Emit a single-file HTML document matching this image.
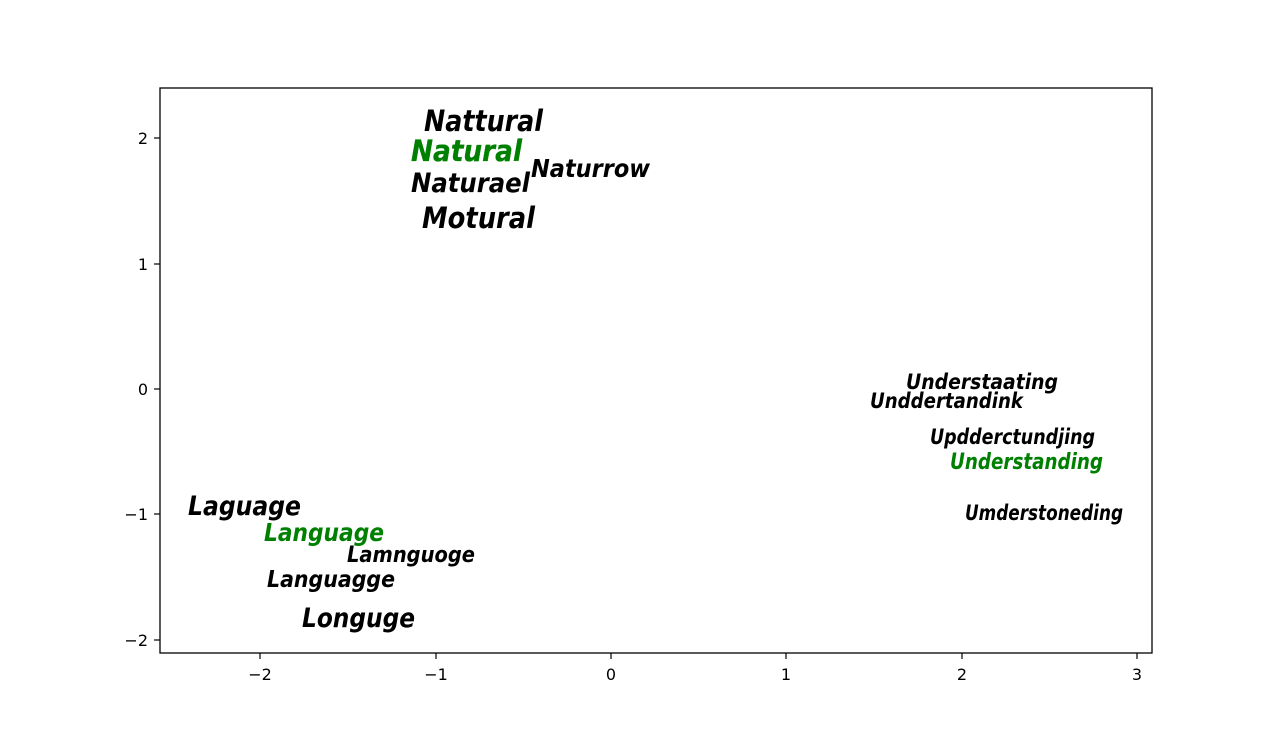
<!DOCTYPE html>
<html><head><style>body{margin:0;background:#fff}svg{display:block}</style></head><body>
<svg width="1280" height="734" xmlns="http://www.w3.org/2000/svg" font-family="DejaVu Sans, sans-serif">
<rect x="160" y="88" width="992" height="565" fill="none" stroke="#000" stroke-width="1.3"/>
<g stroke="#000" stroke-width="1.2">
<line x1="260" y1="653" x2="260" y2="659"/><line x1="436" y1="653" x2="436" y2="659"/><line x1="611" y1="653" x2="611" y2="659"/><line x1="786" y1="653" x2="786" y2="659"/><line x1="962" y1="653" x2="962" y2="659"/><line x1="1137" y1="653" x2="1137" y2="659"/>
<line x1="154" y1="138" x2="160" y2="138"/><line x1="154" y1="264" x2="160" y2="264"/><line x1="154" y1="389" x2="160" y2="389"/><line x1="154" y1="514" x2="160" y2="514"/><line x1="154" y1="640" x2="160" y2="640"/>
</g>
<g font-size="16" text-anchor="middle" fill="#000">
<text x="260" y="680">−2</text><text x="436" y="680">−1</text><text x="611" y="680">0</text><text x="786" y="680">1</text><text x="962" y="680">2</text><text x="1137" y="680">3</text>
</g>
<g font-size="16" text-anchor="end" fill="#000">
<text x="148" y="144">2</text><text x="148" y="270">1</text><text x="148" y="395">0</text><text x="148" y="520">−1</text><text x="148" y="646">−2</text>
</g>
<g font-style="oblique" font-weight="bold">
<text x="424" y="131" font-size="29" textLength="119" lengthAdjust="spacingAndGlyphs">Nattural</text>
<text x="411" y="161" font-size="29" fill="green" stroke="green" stroke-width="0.3" textLength="111" lengthAdjust="spacingAndGlyphs">Natural</text>
<text x="531" y="177" font-size="25" textLength="119" lengthAdjust="spacingAndGlyphs">Naturrow</text>
<text x="411" y="192" font-size="27" textLength="119" lengthAdjust="spacingAndGlyphs">Naturael</text>
<text x="422" y="228" font-size="29" textLength="113" lengthAdjust="spacingAndGlyphs">Motural</text>
<text x="906" y="389" font-size="21" textLength="152" lengthAdjust="spacingAndGlyphs">Understaating</text>
<text x="870" y="408" font-size="21" textLength="153" lengthAdjust="spacingAndGlyphs">Unddertandink</text>
<text x="930" y="444" font-size="21" textLength="165" lengthAdjust="spacingAndGlyphs">Updderctundjing</text>
<text x="950" y="469" font-size="22" fill="green" textLength="153" lengthAdjust="spacingAndGlyphs">Understanding</text>
<text x="965" y="520" font-size="21" textLength="158" lengthAdjust="spacingAndGlyphs">Umderstoneding</text>
<text x="188" y="515" font-size="27" textLength="113" lengthAdjust="spacingAndGlyphs">Laguage</text>
<text x="264" y="541" font-size="25" fill="green" textLength="120" lengthAdjust="spacingAndGlyphs">Language</text>
<text x="347" y="562" font-size="22" textLength="128" lengthAdjust="spacingAndGlyphs">Lamnguoge</text>
<text x="267" y="587" font-size="23" textLength="128" lengthAdjust="spacingAndGlyphs">Languagge</text>
<text x="302" y="627" font-size="27" textLength="113" lengthAdjust="spacingAndGlyphs">Longuge</text>
</g>
</svg>
</body></html>
